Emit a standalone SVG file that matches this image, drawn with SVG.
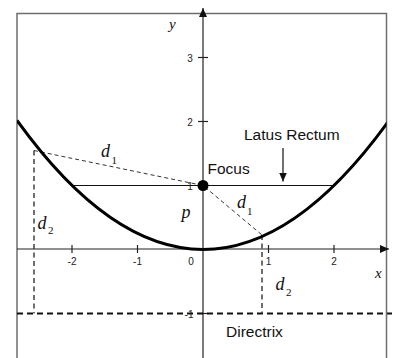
<svg xmlns="http://www.w3.org/2000/svg" width="394" height="358" viewBox="0 0 394 358">
<style>
.axis{stroke:#222;stroke-width:1.2;fill:none}
.tick{stroke:#222;stroke-width:1.2}
.frame{stroke:#6e6e6e;stroke-width:1.5;fill:#ffffff}
.num{font-family:"Liberation Sans",Arial,sans-serif;font-size:10px;fill:#222}
.lbl{font-family:"Liberation Sans",Arial,sans-serif;font-size:15.5px;fill:#111}
.it{font-family:"Liberation Serif","Times New Roman",serif;font-style:italic;fill:#111}
.sub{font-family:"Liberation Serif","Times New Roman",serif;font-size:11px;fill:#111}
.dist{stroke:#333;stroke-width:1;stroke-dasharray:4 3;fill:none}
.vdist{stroke:#333;stroke-width:1.4;stroke-dasharray:5 3.5;fill:none}
</style>
<defs>
<marker id="arr" markerWidth="10" markerHeight="10" refX="9" refY="4" orient="auto" markerUnits="userSpaceOnUse">
<path d="M0,0 L9,4 L0,8 Z" fill="#111"/>
</marker>
<clipPath id="plot"><rect x="17" y="13.5" width="369.5" height="345"/></clipPath>
</defs>
<rect x="0" y="0" width="394" height="358" fill="#ffffff"/>
<rect id="frame" class="frame" x="17" y="13.5" width="369.5" height="350"/>

<g id="labels-axis">
<text class="num" x="72" y="265" text-anchor="middle">-2</text>
<text class="num" x="137.5" y="265" text-anchor="middle">-1</text>
<text class="num" x="191" y="265" text-anchor="middle">0</text>
<text class="num" x="268.5" y="265" text-anchor="middle">1</text>
<text class="num" x="334" y="265" text-anchor="middle">2</text>
<text class="num" x="190" y="61.5" text-anchor="middle">3</text>
<text class="num" x="190" y="125.5" text-anchor="middle">2</text>
<text class="num" x="190" y="190" text-anchor="middle">1</text>
<text class="num" x="189" y="318" text-anchor="middle">-1</text>
</g>

<g id="axes">
<line class="axis" x1="17" y1="249" x2="389" y2="249" marker-end="url(#arr)"/>
<line class="axis" x1="203" y1="358" x2="203" y2="8" marker-end="url(#arr)"/>
<line class="tick" x1="72" y1="245" x2="72" y2="253"/>
<line class="tick" x1="137.5" y1="245" x2="137.5" y2="253"/>
<line class="tick" x1="268.5" y1="245" x2="268.5" y2="253"/>
<line class="tick" x1="334" y1="245" x2="334" y2="253"/>
<line class="tick" x1="198" y1="57.5" x2="208" y2="57.5"/>
<line class="tick" x1="198" y1="121.5" x2="208" y2="121.5"/>
<line class="tick" x1="198" y1="313.5" x2="208" y2="313.5"/>
<text class="it" x="169" y="29" font-size="15">y</text>
<text class="it" x="375" y="278" font-size="15">x</text>
</g>

<g id="directrix">
<line x1="17" y1="313.5" x2="392" y2="313.5" stroke="#111" stroke-width="2.2" stroke-dasharray="6 4"/>
<text class="lbl" x="226" y="336.5">Directrix</text>
</g>

<g id="latus-rectum">
<line x1="72" y1="185.5" x2="334" y2="185.5" stroke="#111" stroke-width="1.2"/>
<text class="lbl" x="244" y="140">Latus Rectum</text>
<line x1="283" y1="148" x2="283" y2="181.5" stroke="#111" stroke-width="1.2" marker-end="url(#arr)"/>
</g>

<g id="distances">
<polyline class="dist" points="34,150.5 203,185.5 262,235"/>
<line class="vdist" x1="34" y1="150.5" x2="34" y2="313.5"/>
<line class="vdist" x1="262" y1="235" x2="262" y2="313.5"/>
<text class="it" x="101" y="157" font-size="18">d</text>
<text class="sub" x="111.5" y="163.5">1</text>
<text class="it" x="237" y="208" font-size="18">d</text>
<text class="sub" x="247" y="214.5">1</text>
<text class="it" x="37.5" y="228.5" font-size="18">d</text>
<text class="sub" x="48" y="234">2</text>
<text class="it" x="275.5" y="289.5" font-size="18">d</text>
<text class="sub" x="286" y="296">2</text>
<text class="it" x="181.5" y="217.5" font-size="18">p</text>
</g>

<g id="parabola" clip-path="url(#plot)">
<path d="M17,120.5 Q203,378.5 389,120.5" fill="none" stroke="#000" stroke-width="3"/>
</g>

<g id="focus">
<circle cx="203" cy="185.5" r="5.5" fill="#000"/>
<text class="lbl" x="207.5" y="173.5">Focus</text>
</g>
</svg>
